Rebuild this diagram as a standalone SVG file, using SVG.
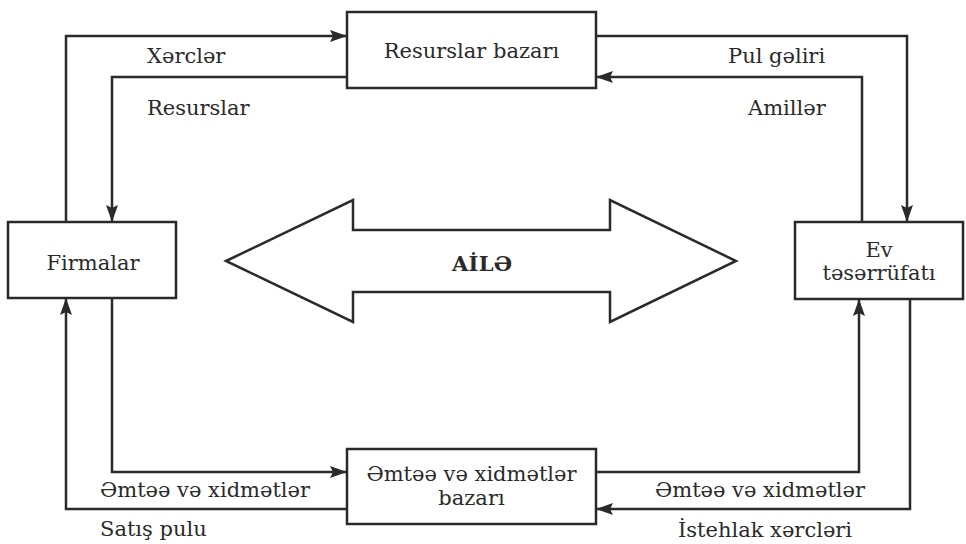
<svg xmlns="http://www.w3.org/2000/svg" width="966" height="544" viewBox="0 0 966 544">
<style>
.box{fill:#fff;stroke:#2a2a2a;stroke-width:2.5}
.ln{fill:none;stroke:#2a2a2a;stroke-width:2.5}
text{font-family:"DejaVu Serif","Liberation Serif",serif;font-size:21px;fill:#2a2a2a}
.c{text-anchor:middle}
</style>
<defs>
<marker id="ah" viewBox="0 0 17 12" refX="16" refY="6" markerWidth="17" markerHeight="12" markerUnits="userSpaceOnUse" orient="auto">
<path d="M0,0 L17,6 L0,12 L3,6 Z" fill="#2a2a2a"/>
</marker>
</defs>
<rect width="966" height="544" fill="#fff"/>
<g id="connectors">
<path class="ln" d="M66,222 V36 H346" marker-end="url(#ah)"/>
<path class="ln" d="M347,77 H112 V221" marker-end="url(#ah)"/>
<path class="ln" d="M596,36 H907 V221" marker-end="url(#ah)"/>
<path class="ln" d="M862,222 V77 H597" marker-end="url(#ah)"/>
<path class="ln" d="M112,298 V472 H346" marker-end="url(#ah)"/>
<path class="ln" d="M347,509 H66 V299" marker-end="url(#ah)"/>
<path class="ln" d="M596,472 H859 V300" marker-end="url(#ah)"/>
<path class="ln" d="M910,299 V509 H597" marker-end="url(#ah)"/>
<text x="147" y="63">Xərclər</text>
<text x="147" y="115">Resurslar</text>
<text x="728" y="63">Pul gəliri</text>
<text x="748" y="115">Amillər</text>
<text x="100" y="497">Əmtəə və xidmətlər</text>
<text x="100" y="536">Satış pulu</text>
<text x="655" y="497">Əmtəə və xidmətlər</text>
<text x="678" y="537">İstehlak xərcləri</text>
</g>
<g id="resurslar-bazari">
<rect class="box" x="347" y="12" width="249" height="76"/>
<text class="c" x="471.5" y="58">Resurslar bazarı</text>
</g>
<g id="firmalar">
<rect class="box" x="8" y="222" width="168" height="76"/>
<text class="c" x="93" y="270">Firmalar</text>
</g>
<g id="ev-teserrufati">
<rect class="box" x="795" y="222" width="168" height="77"/>
<text class="c" x="879" y="257">Ev</text>
<text class="c" x="879" y="280">təsərrüfatı</text>
</g>
<g id="emtee-bazari">
<rect class="box" x="347" y="449" width="249" height="75"/>
<text class="c" x="471.5" y="481">Əmtəə və xidmətlər</text>
<text class="c" x="471.5" y="505">bazarı</text>
</g>
<g id="aile">
<path class="ln" d="M226,261 L353,200 V230 H610 V200 L736,261 L610,322 V292 H353 V322 Z"/>
<text x="452" y="271" font-size="17" font-weight="bold" textLength="60">AİLƏ</text>
</g>
</svg>
